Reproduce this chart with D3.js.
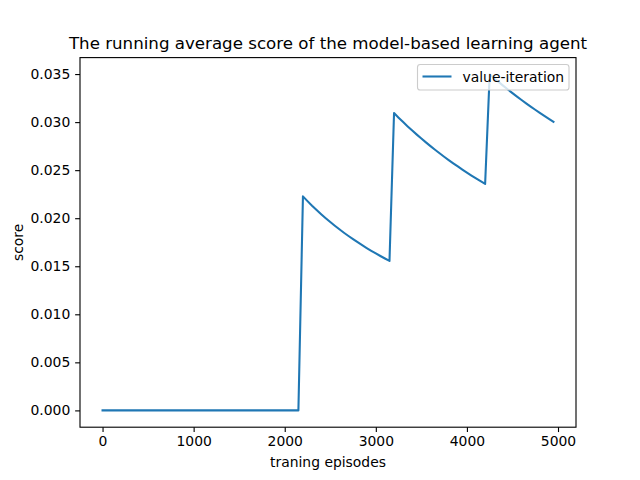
<!DOCTYPE html>
<html><head><meta charset="utf-8">
<script src="https://cdn.jsdelivr.net/npm/d3@7"></script>
<style>body{margin:0;background:#fff}svg{display:block}text{font-family:"DejaVu Sans",sans-serif;fill:#000}</style>
</head><body><svg id="c" width="640" height="480"></svg>
<script>
const title = "The running average score of the model-based learning agent";
const xLabel = "traning episodes";
const yLabel = "score";
const seriesName = "value-iteration";
const xTicks = [0, 1000, 2000, 3000, 4000, 5000];
const yTicks = [0.000, 0.005, 0.010, 0.015, 0.020, 0.025, 0.030, 0.035];
const episodes = [
  0,50,100,150,200,250,300,350,400,450,500,550,600,650,700,750,800,850,900,950,
  1000,1050,1100,1150,1200,1250,1300,1350,1400,1450,1500,1550,1600,1650,1700,1750,1800,1850,1900,1950,
  2000,2050,2100,2150,2200,2250,2300,2350,2400,2450,2500,2550,2600,2650,2700,2750,2800,2850,2900,2950,
  3000,3050,3100,3150,3200,3250,3300,3350,3400,3450,3500,3550,3600,3650,3700,3750,3800,3850,3900,3950,
  4000,4050,4100,4150,4200,4250,4300,4350,4400,4450,4500,4550,4600,4650,4700,4750,4800,4850,4900,4950
];
const scores = [
  0,0,0,0,0,0,0,0,0,0,0,0,0,0,0,0,0,0,0,0,
  0,0,0,0,0,0,0,0,0,0,0,0,0,0,0,0,0,0,0,0,
  0,0,0,0,0.022273,0.021778,0.021304,0.020851,0.020417,0.020000,0.019600,0.019216,0.018846,0.018491,0.018148,0.017818,0.017500,0.017193,0.016897,0.016610,
  0.016333,0.016066,0.015806,0.015556,0.030938,0.030462,0.030000,0.029552,0.029118,0.028696,0.028286,0.027887,0.027500,0.027123,0.026757,0.026400,0.026053,0.025714,0.025385,0.025063,
  0.024750,0.024444,0.024146,0.023855,0.023571,0.034965,0.034558,0.034161,0.033773,0.033393,0.033022,0.032659,0.032304,0.031957,0.031617,0.031284,0.030958,0.030639,0.030327,0.030020
];

const svg = d3.select("#c");
const L = 80, R = 576, T = 57.6, B = 427.2;
const xmin = d3.min(episodes), xmax = d3.max(episodes);
const ymin = d3.min(scores), ymax = d3.max(scores);
const xp = (xmax - xmin) * 0.05, yp = (ymax - ymin) * 0.05;
const x = d3.scaleLinear().domain([xmin - xp, xmax + xp]).range([L, R]);
const y = d3.scaleLinear().domain([ymin - yp, ymax + yp]).range([B, T]);

const line = d3.line().x((d, i) => x(episodes[i])).y(d => y(d));
svg.append("path").datum(scores).attr("d", line)
  .attr("fill", "none").attr("stroke", "#1f77b4").attr("stroke-width", 2.08)
  .attr("stroke-linejoin", "round").attr("stroke-linecap", "square");

const fs = 13.9;
const xAxis = d3.axisBottom(x).tickValues(xTicks).tickFormat(d3.format("d")).tickSize(4.86).tickPadding(4.2);
const gx = svg.append("g").attr("transform", `translate(0,${B})`).call(xAxis);
const yAxis = d3.axisLeft(y).tickValues(yTicks).tickFormat(d3.format(".3f")).tickSize(4.86).tickPadding(4.86);
const gy = svg.append("g").attr("transform", `translate(${L},0)`).call(yAxis);
[gx, gy].forEach(g => {
  g.select(".domain").remove();
  g.selectAll(".tick line").attr("stroke", "#000").attr("stroke-width", 1.11);
  g.selectAll(".tick text").style("font-family", "DejaVu Sans").style("font-size", fs + "px").attr("fill", "#000");
});

svg.append("rect").attr("x", L).attr("y", T).attr("width", R - L).attr("height", B - T)
  .attr("fill", "none").attr("stroke", "#000").attr("stroke-width", 1.11);

svg.append("text").attr("x", (L + R) / 2).attr("y", 49.3).attr("text-anchor", "middle")
  .style("font-size", "16.67px").text(title);
svg.append("text").attr("x", (L + R) / 2).attr("y", 467).attr("text-anchor", "middle")
  .style("font-size", fs + "px").text(xLabel);
svg.append("text").attr("transform", `translate(23,${(T + B) / 2}) rotate(-90)`).attr("text-anchor", "middle")
  .style("font-size", fs + "px").text(yLabel);

// legend
const lg = svg.append("g");
lg.append("rect").attr("x", 417.5).attr("y", 64.5).attr("width", 151.5).attr("height", 25.5)
  .attr("rx", 2.8).attr("fill", "#fff").attr("fill-opacity", 0.8)
  .attr("stroke", "#cccccc").attr("stroke-width", 1.11);
lg.append("line").attr("x1", 422.5).attr("x2", 451.5).attr("y1", 76.5).attr("y2", 76.5)
  .attr("stroke", "#1f77b4").attr("stroke-width", 2.08);
lg.append("text").attr("x", 462.5).attr("y", 81.5).style("font-size", fs + "px").text(seriesName);
</script></body></html>
